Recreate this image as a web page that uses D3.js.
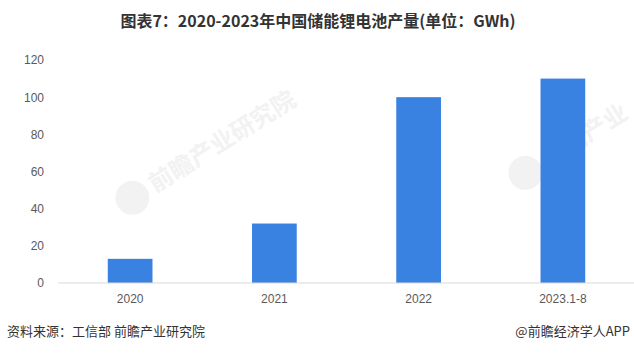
<!DOCTYPE html>
<html lang="zh">
<head>
    <meta charset="UTF-8">
    <title>中国储能锂电池产量</title>
    <script src="https://d3js.org/d3.v7.min.js"></script>
    <style>
        body {margin: 0; background: #fff;}
        svg {display: block; font-family: "Noto Sans CJK SC", "Noto Sans", sans-serif;}
        .tick text {fill: #595959; font-size: 12px; font-family: "Liberation Sans", "Noto Sans CJK SC", sans-serif;}
    </style>
</head>
<body>
<script>
    const width = 634;
    const height = 353;

    const years = ["2020", "2021", "2022", "2023.1-8"];
    const output = [13, 32, 100, 110];
    const yTicks = [0, 20, 40, 60, 80, 100, 120];

    const margin = {top: 60, right: -1, bottom: 70, left: 58};

    const svg = d3.select("body").append("svg")
            .attr("width", width).attr("height", height);

    // watermarks
    const marks = [[185, 165, -32, "前瞻产业研究院"], [578, 140, -32, "前瞻产业"]];
    marks.forEach(m => {
        const g = svg.append("g").attr("transform", `translate(${m[0]},${m[1]}) rotate(${m[2]})`);
        g.append("circle").attr("cx", -62).attr("cy", 0).attr("r", 17).attr("fill", "#f2f2f2");
        g.append("text").attr("x", -40).attr("y", 8)
                .style("font-size", "24px").style("font-weight", "bold")
                .style("fill", "#f2f2f2").text(m[3]);
    });

    const x = d3.scaleBand()
            .domain(years)
            .range([margin.left, width - margin.right])
            .paddingInner(0.69).paddingOuter(0.345);

    const y = d3.scaleLinear()
            .domain([0, 120])
            .range([height - margin.bottom, margin.top]);

    svg.selectAll("rect.bar")
            .data(years).enter()
            .append("rect").attr("class", "bar")
            .attr("x", d => x(d))
            .attr("width", x.bandwidth())
            .attr("y", (d, i) => y(output[i]))
            .attr("height", (d, i) => y(0) - y(output[i]))
            .attr("fill", "#3a82e2");

    // baseline
    svg.append("line")
            .attr("x1", margin.left).attr("x2", width)
            .attr("y1", y(0)).attr("y2", y(0))
            .attr("stroke", "#d9d9d9");

    svg.append("g")
            .attr("transform", `translate(${margin.left},0)`)
            .call(d3.axisLeft(y).tickValues(yTicks).tickSize(0).tickPadding(14))
            .call(g => g.select(".domain").remove());

    svg.append("g")
            .attr("transform", `translate(0,${y(0)})`)
            .call(d3.axisBottom(x).tickSize(0).tickPadding(11))
            .call(g => g.select(".domain").remove());

    svg.append("text")
            .attr("x", 318).attr("y", 27)
            .attr("text-anchor", "middle")
            .style("font-size", "16px").style("font-weight", "bold").style("fill", "#333")
            .text("图表7：2020-2023年中国储能锂电池产量(单位：GWh)");

    svg.append("text")
            .attr("x", 7).attr("y", 336)
            .style("font-size", "13px").style("fill", "#333")
            .text("资料来源：工信部 前瞻产业研究院");

    svg.append("text")
            .attr("x", 630).attr("y", 336)
            .attr("text-anchor", "end")
            .style("font-size", "13px").style("fill", "#333")
            .text("@前瞻经济学人APP");
</script>
</body>
</html>
